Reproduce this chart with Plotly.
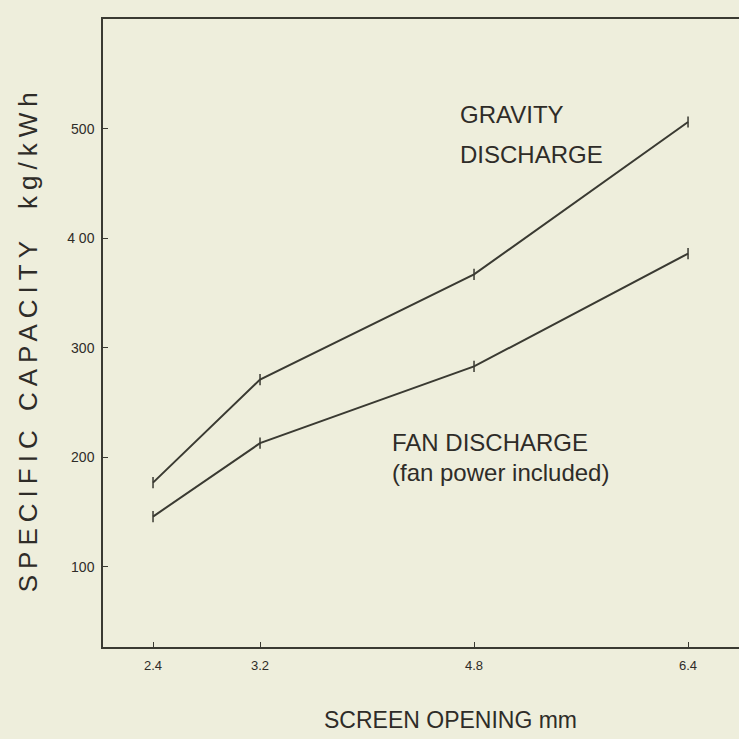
import plotly.graph_objects as go

# Screen opening (mm) and specific capacity (kg/kWh) for the two discharge modes
screen_opening = [2.4, 3.2, 4.8, 6.4]
gravity_discharge = [177, 271, 367, 506]
fan_discharge = [146, 213, 283, 386]

x_ticks = [2.4, 3.2, 4.8, 6.4]
x_tick_text = ["2.4", "3.2", "4.8", "6.4"]
y_ticks = [100, 200, 300, 400, 500]
y_tick_text = ["100", "200", "300", "4 00", "500"]

INK = "#3a3a32"
PAPER = "#eeeedc"
FONT = "Liberation Sans, Arial, sans-serif"

fig = go.Figure()
for series in (gravity_discharge, fan_discharge):
    fig.add_trace(go.Scatter(
        x=screen_opening, y=series, mode="lines+markers",
        line=dict(color=INK, width=2),
        marker=dict(symbol="line-ns", size=8, line=dict(color=INK, width=1.5)),
        showlegend=False, hoverinfo="skip",
    ))

label_font = dict(family=FONT, size=24, color="#2e2c28")
for text, x, y in [("GRAVITY", 4.68, 513), ("DISCHARGE", 4.68, 476),
                   ("FAN DISCHARGE", 4.172, 214), ("(fan power included)", 4.172, 186)]:
    fig.add_annotation(x=x, y=y, text=text, showarrow=False, xanchor="left",
                       yanchor="middle", font=label_font)

fig.add_annotation(xref="paper", yref="paper", x=0.546, y=-0.116,
                   text="SCREEN OPENING mm", showarrow=False,
                   xanchor="center", yanchor="middle",
                   font=dict(family=FONT, size=23, color="#2e2c28"))
fig.add_annotation(xref="paper", yref="paper", x=-0.118, y=0.49,
                   text='<span style="letter-spacing:6px">SPECIFIC CAPACITY  kg/kWh</span>',
                   showarrow=False, textangle=-90,
                   xanchor="center", yanchor="middle",
                   font=dict(family=FONT, size=26, color="#2e2c28"))

fig.update_xaxes(range=[2.026, 6.781], tickvals=x_ticks, ticktext=x_tick_text,
                 ticks="inside", ticklen=5, tickwidth=1.2, tickcolor=INK,
                 showline=True, linecolor=INK, linewidth=1.5, mirror=True,
                 showgrid=False, zeroline=False, ticklabelstandoff=6,
                 tickfont=dict(family=FONT, size=13, color="#2e2c28"))
fig.update_yaxes(range=[27, 600], tickvals=y_ticks, ticktext=y_tick_text,
                 ticks="inside", ticklen=5, tickwidth=1.2, tickcolor=INK,
                 showline=True, linecolor=INK, linewidth=1.5,
                 showgrid=False, zeroline=False, ticklabelstandoff=4,
                 tickfont=dict(family=FONT, size=14, color="#2e2c28"))

fig.update_layout(
    width=739, height=739,
    margin=dict(l=103, r=0, t=19, b=92),
    paper_bgcolor=PAPER, plot_bgcolor=PAPER,
)

fig.write_html("out.html")
